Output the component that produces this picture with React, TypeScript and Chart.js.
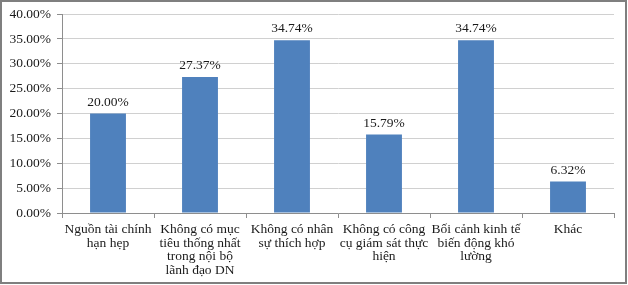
import React, { useEffect, useRef } from "react";
import { Chart, registerables } from "chart.js";

Chart.register(...registerables);

const categories: string[][] = [
  ["Nguồn tài chính", "hạn hẹp"],
  ["Không có mục", "tiêu thống nhất", "trong nội bộ", "lãnh đạo DN"],
  ["Không có nhân", "sự thích hợp"],
  ["Không có công", "cụ giám sát thực", "hiện"],
  ["Bối cảnh kinh tế", "biến động khó", "lường"],
  ["Khác"],
];
const values: number[] = [20.0, 27.37, 34.74, 15.79, 34.74, 6.32];
const yMin = 0;
const yMax = 40;
const yStep = 5;

const FONT = "'Liberation Serif', 'Times New Roman', serif";

const frame = {
  id: "frame",
  afterDraw(chart: any) {
    const ctx = chart.ctx;
    ctx.save();
    ctx.strokeStyle = "#7f7f7f";
    ctx.lineWidth = 2;
    ctx.strokeRect(1, 1, 625, 282);
    ctx.restore();
  },
};

const valueLabels = {
  id: "valueLabels",
  afterDatasetsDraw(chart: any) {
    const ctx = chart.ctx;
    const meta = chart.getDatasetMeta(0);
    ctx.save();
    ctx.font = `13.5px ${FONT}`;
    ctx.fillStyle = "#1a1a1a";
    ctx.textAlign = "center";
    ctx.textBaseline = "middle";
    meta.data.forEach((bar: any, i: number) => {
      ctx.fillText(values[i].toFixed(2) + "%", bar.x, bar.y - 11.5);
    });
    ctx.restore();
  },
};

export default function App() {
  const ref = useRef<HTMLCanvasElement | null>(null);
  useEffect(() => {
    document.body.style.margin = "0";
    const chart = new Chart(ref.current!, {
      type: "bar",
      data: {
        labels: categories,
        datasets: [
          {
            data: values,
            backgroundColor: "#4f81bd",
            categoryPercentage: 1,
            barPercentage: 0.39,
          },
        ],
      },
      options: {
        animation: false,
        responsive: false,
        maintainAspectRatio: false,
        layout: { padding: { top: 13, right: 14, left: 0, bottom: 0 } },
        plugins: { legend: { display: false }, tooltip: { enabled: false } },
        scales: {
          x: {
            afterFit: (s: any) => {
              s.height = 72;
            },
            grid: {
              offset: true,
              drawOnChartArea: false,
              drawTicks: true,
              tickLength: 5,
              color: "#8e8e8e",
            },
            border: { display: true, color: "#8e8e8e", width: 1 },
            ticks: {
              padding: 5,
              color: "#1a1a1a",
              maxRotation: 0,
              autoSkip: false,
              font: { family: FONT, size: 13.5, lineHeight: 1.0 },
            },
          },
          y: {
            min: yMin,
            max: yMax,
            afterFit: (s: any) => {
              s.width = 62;
            },
            grid: {
              color: "#d0d0d0",
              tickColor: "#8e8e8e",
              tickLength: 5,
            },
            border: { display: true, color: "#8e8e8e", width: 1 },
            ticks: {
              stepSize: yStep,
              padding: 6,
              color: "#1a1a1a",
              font: { family: FONT, size: 13.5 },
              callback: (v: any) => Number(v).toFixed(2) + "%",
            },
          },
        },
      },
      plugins: [frame, valueLabels],
    });
    return () => chart.destroy();
  }, []);
  return (
    <div style={{ width: 628, height: 285, background: "#fff" }}>
      <canvas ref={ref} width={628} height={285} style={{ display: "block" }} />
    </div>
  );
}
